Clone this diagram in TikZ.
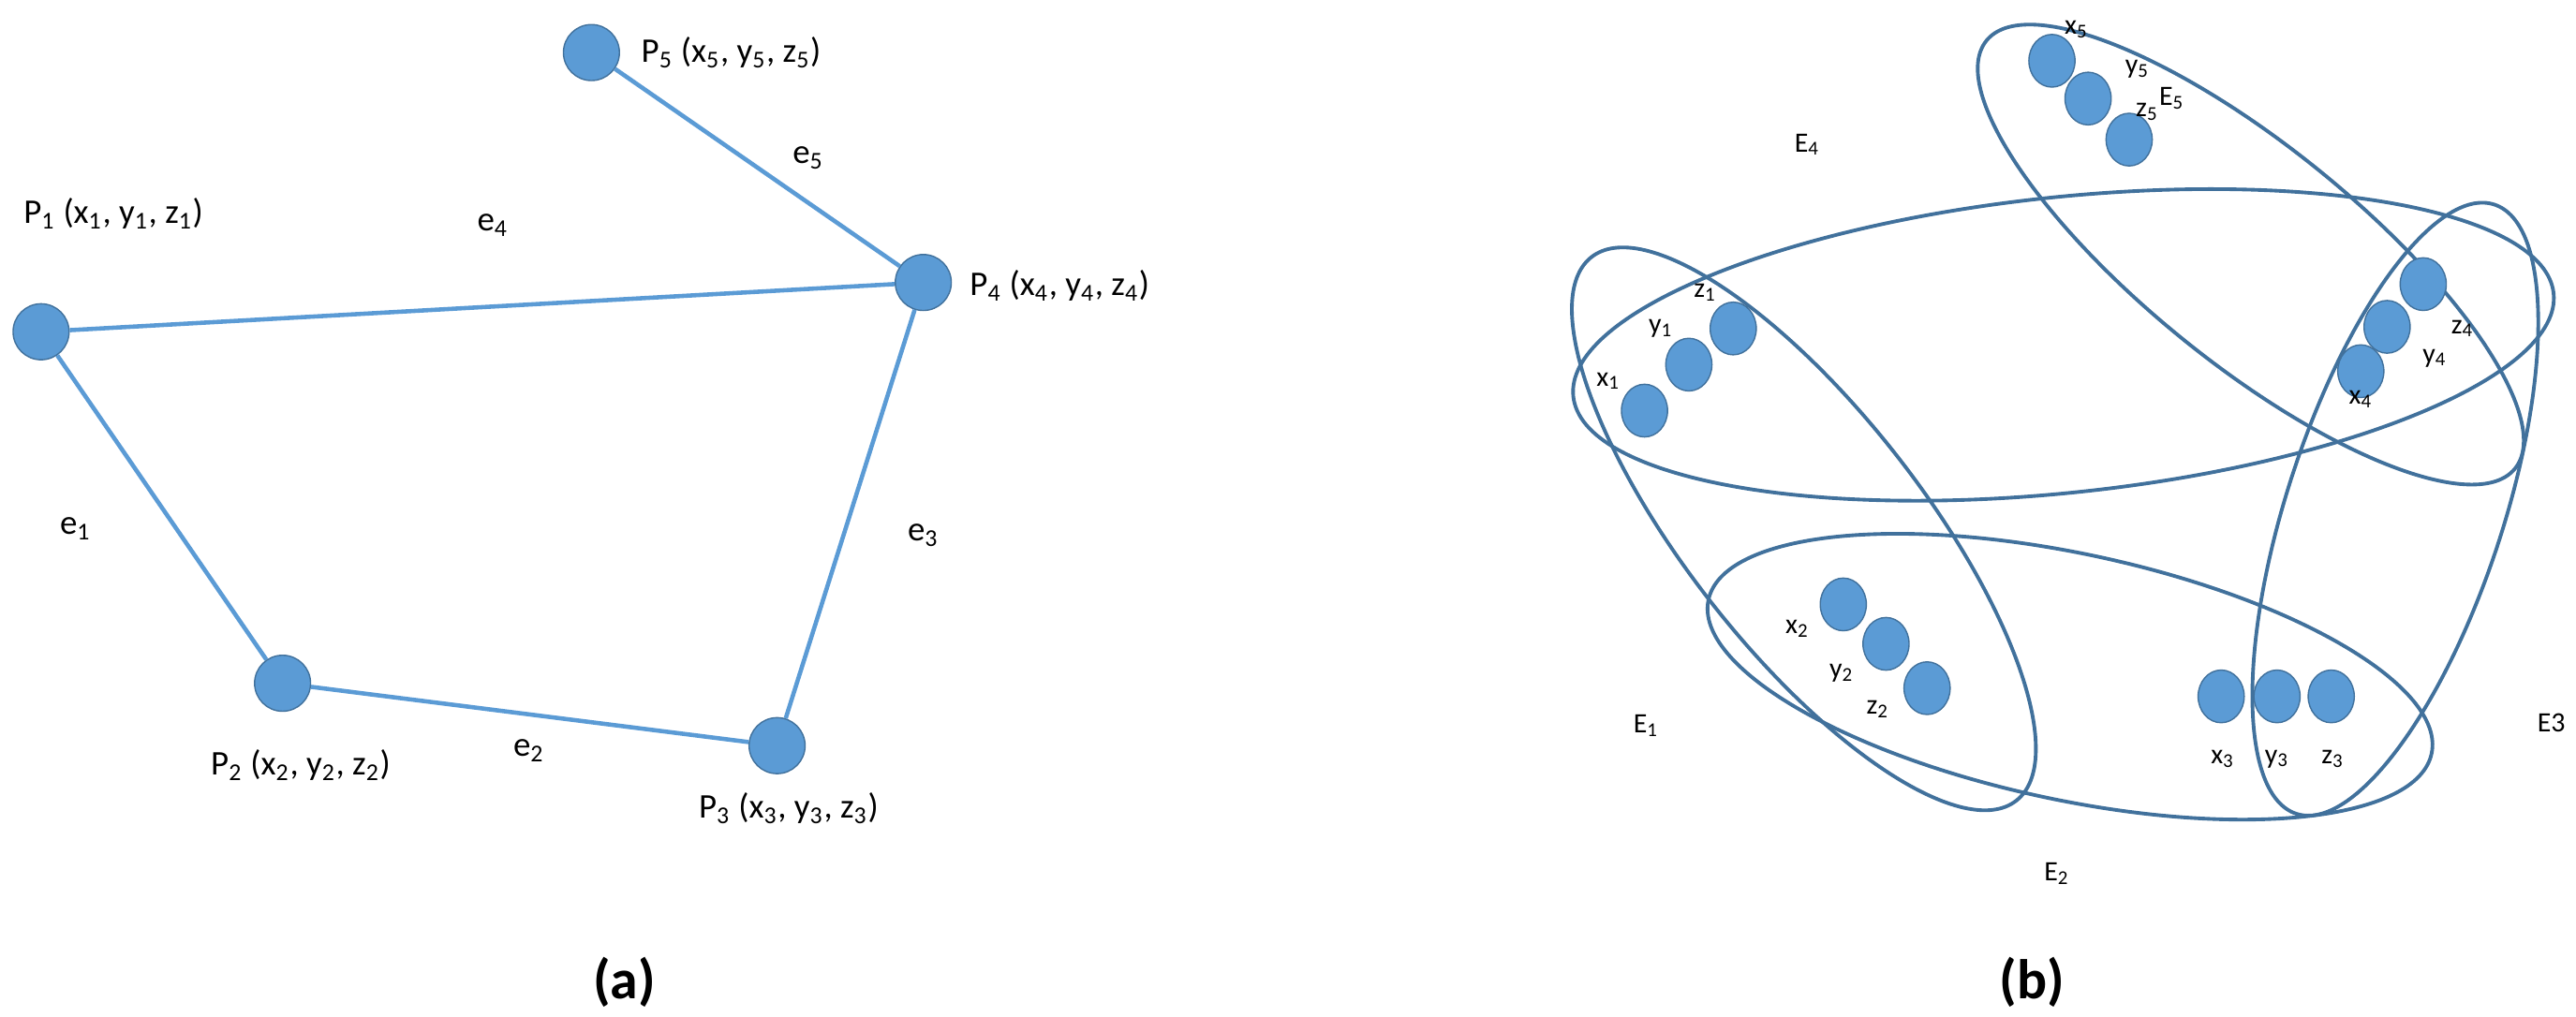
\documentclass[tikz,border=0pt]{standalone}
\usepackage{fontspec}
\setmainfont{Carlito}
\usetikzlibrary{shapes.geometric}
\newcommand\sbs[1]{\textsubscript{#1}}
\definecolor{dotf}{HTML}{5B9BD5}
\definecolor{dotb}{HTML}{41719C}
\begin{document}
\begin{tikzpicture}[x=0.017538cm,y=-0.017538cm,
  bigdot/.style={circle,fill=dotf,draw=dotb,line width=0.4pt,minimum size=17pt,inner sep=0},
  smdot/.style={ellipse,fill=dotf,draw=dotb,line width=0.4pt,minimum width=14pt,minimum height=16pt,inner sep=0},
  edge/.style={draw=dotf,line width=1.3pt},
  hyp/.style={draw=dotb,line width=1.1pt},
  lbl/.style={font=\fontsize{10.5}{12}\selectfont,inner sep=0},
  slbl/.style={font=\fontsize{8.5}{10}\selectfont,inner sep=0},
  captext/.style={font=\fontsize{17}{20}\selectfont\rmfamily\bfseries,inner sep=0}]
\useasboundingbox (0,0) rectangle (1568,619);
% (a)
\node[bigdot] (p5) at (360,32) {};
\node[bigdot] (p4) at (562,172) {};
\node[bigdot] (p1) at (25,202) {};
\node[bigdot] (p2) at (172,416) {};
\node[bigdot] (p3) at (473,454) {};
\draw[edge] (p5)--(p4) (p1)--(p4) (p1)--(p2) (p2)--(p3) (p3)--(p4);
\node[lbl,anchor=west] (l5) at (390,32) {P\sbs{5} (x\sbs{5}, y\sbs{5}, z\sbs{5})};
\node[lbl,anchor=west] (l1) at (14,130) {P\sbs{1} (x\sbs{1}, y\sbs{1}, z\sbs{1})};
\node[lbl,anchor=west] (l4) at (590,174) {P\sbs{4} (x\sbs{4}, y\sbs{4}, z\sbs{4})};
\node[lbl,anchor=west] (l2) at (128,466) {P\sbs{2} (x\sbs{2}, y\sbs{2}, z\sbs{2})};
\node[lbl,anchor=west] (l3) at (425,492) {P\sbs{3} (x\sbs{3}, y\sbs{3}, z\sbs{3})};
\node[lbl] (e5) at (492,96) {e\sbs{5}};
\node[lbl] (e4) at (300,137) {e\sbs{4}};
\node[lbl] (e1) at (46,322) {e\sbs{1}};
\node[lbl] (e3) at (562,326) {e\sbs{3}};
\node[lbl] (e2) at (322,457) {e\sbs{2}};
\node[captext] (ca) at (380,598) {(a)};
% (b)
\draw[hyp,rotate around={-39:(1370,155)}] (1370,155) ellipse [x radius=207,y radius=66];
\draw[hyp,rotate around={6:(1256,210)}] (1256,210) ellipse [x radius=300,y radius=90];
\draw[hyp,rotate around={72:(1458,310)}] (1458,310) ellipse [x radius=195,y radius=66];
\draw[hyp,rotate around={-52:(1098,322)}] (1098,322) ellipse [x radius=210,y radius=72];
\draw[hyp,rotate around={-12:(1260,412)}] (1260,412) ellipse [x radius=225,y radius=75];
\node[smdot] (x5) at (1249,37) {};
\node[smdot] (y5) at (1271,60) {};
\node[smdot] (z5) at (1296,85) {};
\node[smdot] (z4) at (1475,173) {};
\node[smdot] (y4) at (1453,199) {};
\node[smdot] (x4) at (1437,226) {};
\node[smdot] (z1) at (1055,200) {};
\node[smdot] (y1) at (1028,222) {};
\node[smdot] (x1) at (1001,250) {};
\node[smdot] (x2) at (1122,368) {};
\node[smdot] (y2) at (1148,392) {};
\node[smdot] (z2) at (1173,419) {};
\node[smdot] (x3) at (1352,424) {};
\node[smdot] (y3) at (1386,424) {};
\node[smdot] (z3) at (1419,424) {};
\node[slbl] at (1264,18) {x\sbs{5}};
\node[slbl] at (1301,42) {y\sbs{5}};
\node[slbl] at (1307,68) {z\sbs{5}};
\node[slbl] at (1499,200) {z\sbs{4}};
\node[slbl] at (1482,218) {y\sbs{4}};
\node[slbl] at (1437,243) {x\sbs{4}};
\node[slbl] at (1038,178) {z\sbs{1}};
\node[slbl] at (1011,200) {y\sbs{1}};
\node[slbl] at (979,232) {x\sbs{1}};
\node[slbl] at (1094,383) {x\sbs{2}};
\node[slbl] at (1121,410) {y\sbs{2}};
\node[slbl] at (1143,432) {z\sbs{2}};
\node[slbl] at (1353,462) {x\sbs{3}};
\node[slbl] at (1386,462) {y\sbs{3}};
\node[slbl] at (1420,462) {z\sbs{3}};
\node[slbl] at (1322,60) {E\sbs{5}};
\node[slbl] at (1100,88) {E\sbs{4}};
\node[slbl] at (1002,442) {E\sbs{1}};
\node[slbl] at (1252,532) {E\sbs{2}};
\node[slbl] at (1553,440) {E3};
\node[captext] (cb) at (1237,598) {(b)};
\end{tikzpicture}
\end{document}
